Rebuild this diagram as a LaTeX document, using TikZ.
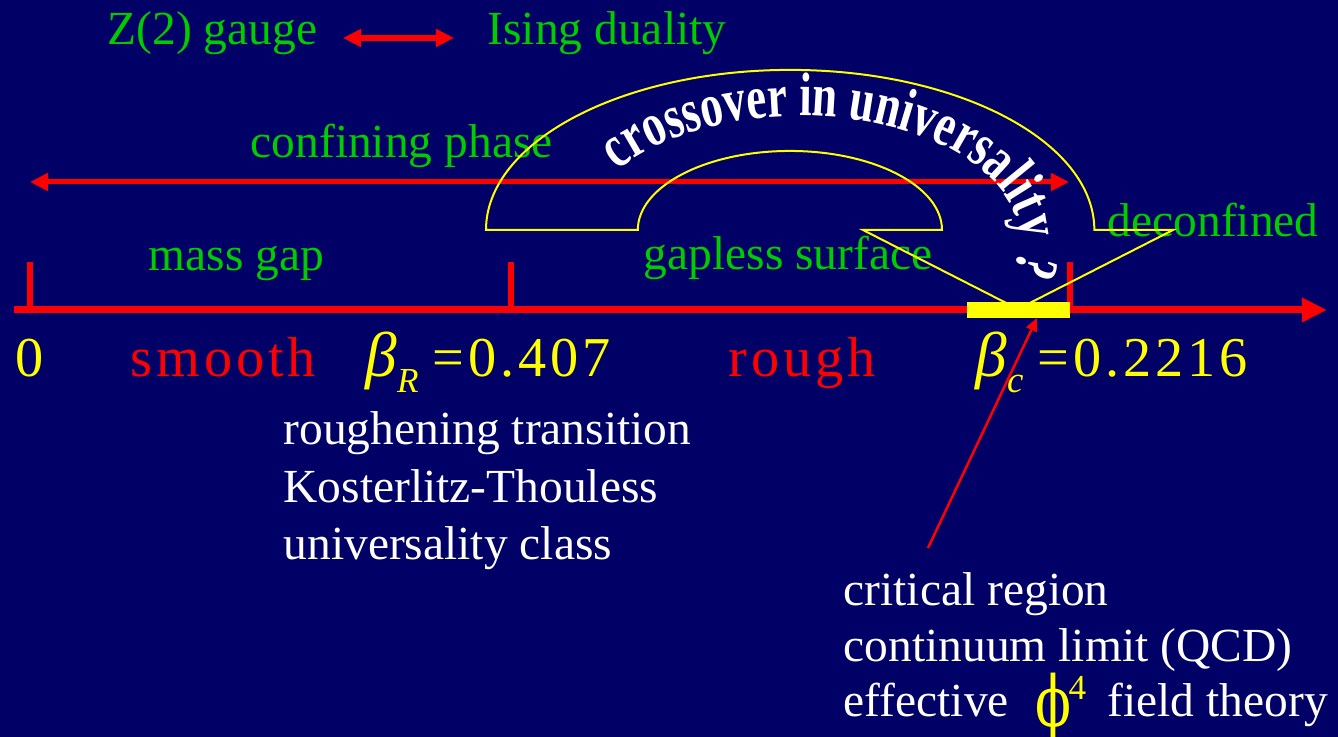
\documentclass[tikz,border=0pt]{standalone}
\usepackage{graphicx}
\usepackage{fontspec}
\setmainfont{Liberation Serif}
\newfontfamily\spacedfont[LetterSpace=7]{Liberation Serif}
\newfontface\archfont[FakeStretch=0.73]{Liberation Serif Bold}
\newfontfamily\phifont{DejaVu Serif}
\usetikzlibrary{arrows.meta,decorations.text}

\definecolor{slidebg}{RGB}{0,0,102}
\definecolor{slidegreen}{RGB}{0,204,0}
\definecolor{slidered}{RGB}{255,0,0}
\definecolor{slideyellow}{RGB}{255,255,0}

\begin{document}
\begin{tikzpicture}[x=0.01cm, y=-0.01cm,
    lbl/.style={anchor=base west, inner sep=0pt, font=\fontsize{13.5}{16}\selectfont},
    greenlbl/.style={lbl, text=slidegreen},
    whitelbl/.style={lbl, text=white},
    biglbl/.style={anchor=base west, inner sep=0pt, font=\fontsize{16}{19}\spacedfont},
    betaaxis/.style={slidered, line width=0.07cm},
    spanarrow/.style={slidered, line width=0.05cm,
      {Triangle[length=0.18cm,width=0.17cm]}-{Triangle[length=0.18cm,width=0.17cm]}},
    arch/.style={slideyellow, line width=0.02cm, line join=miter}]
        \fill[slidebg] (0,0) rectangle (1338,737);
        \clip (0,0) rectangle (1338,737);

        % duality
        \node[greenlbl] (gauge) at (107,45) {Z(2) gauge};
        \node[greenlbl] (ising) at (487,45) {Ising duality};
        \coordinate (dualL) at (343,38);
        \coordinate (dualR) at (454,38);
        \draw[spanarrow, line width=0.065cm] (dualL) -- (dualR);

        % phases
        \node[greenlbl] (confining) at (250,158) {confining phase};
        \node[greenlbl] (massgap) at (148,271) {mass gap};
        \node[greenlbl] (gapless) at (643,270) {gapless surface};
        \node[greenlbl] (deconf) at (1107,237) {deconfined};
        \coordinate (confL) at (30,182);
        \coordinate (confR) at (1069,182);
        \draw[spanarrow] (confL) -- (confR);

        % beta axis
        \coordinate (axisL) at (14,310);
        \coordinate (axisR) at (1327,310);
        \draw[betaaxis, -{Triangle[length=0.25cm,width=0.23cm]}] (axisL) -- (axisR);
        \foreach \t in {30,511,1070}
            \draw[betaaxis, line width=0.055cm] (\t,262) -- (\t,310);

        % crossover arrow
        \draw[arch] (486,230) arc[start angle=180, end angle=0, x radius=3.04cm, y radius=1.6cm]
            -- (1173,230) -- (1018,309) -- (863,230) -- (942,230)
            arc[start angle=0, end angle=180, x radius=1.52cm, y radius=0.79cm] -- cycle;
        \node[fill=slideyellow, minimum width=1.03cm, minimum height=0.16cm, inner sep=0pt] (crit) at (1018.5,310) {};
        \coordinate (bend) at (800,240);
        \path[decorate, decoration={text along path, text color=white,
            text={|\fontsize{17.5}{19}\archfont|crossover in universality ?}}]
            (bend) ++(146:2.2cm and 1.24cm)
            arc[start angle=146, end angle=-40, x radius=2.2cm, y radius=1.24cm];

        % values
        \node[biglbl, text=slideyellow] (zero) at (15,377) {0};
        \node[biglbl, text=slidered] (smooth) at (130,377) {smooth};
        \node[biglbl, text=slideyellow] (betaR) at (365,377)
            {{\fontsize{18}{19}\selectfont\itshape β}\raisebox{-0.27em}{\fontsize{10}{10}\selectfont\itshape R}\hspace{0.25em}=0.407};
        \node[biglbl, text=slidered] (rough) at (728,377) {rough};
        \node[biglbl, text=slideyellow] (betac) at (975,377)
            {{\fontsize{18}{19}\selectfont\itshape β}\raisebox{-0.27em}{\fontsize{10.5}{10}\selectfont\itshape c}\hspace{0.25em}=0.2216};

        % roughening
        \node[whitelbl] (rtrans) at (283,445) {roughening transition};
        \node[whitelbl] (kt) at (283,503) {Kosterlitz-Thouless};
        \node[whitelbl] (uclass) at (283,560) {universality class};

        % critical region
        \node[whitelbl] (critreg) at (843,606) {critical region};
        \node[whitelbl] (contlim) at (843,662) {continuum limit (QCD)};
        \node[whitelbl] (eff) at (843,717) {effective};
        \node[anchor=base west, inner sep=0pt, text=slideyellow, font=\fontsize{20}{20}\phifont] (phi) at (1035,727)
            {\scalebox{0.75}[1]{ϕ}};
        \node[anchor=base west, inner sep=0pt, text=slideyellow, font=\fontsize{10}{10}\selectfont] (four) at (1068,700) {4};
        \node[whitelbl] (field) at (1107,717) {field theory};
        \coordinate (ptrTail) at (928,548);
        \coordinate (ptrTip) at (1037,318);
        \draw[slidered, line width=0.025cm, -{Triangle[length=0.13cm,width=0.11cm]}] (ptrTail) -- (ptrTip);
\end{tikzpicture}
\end{document}
